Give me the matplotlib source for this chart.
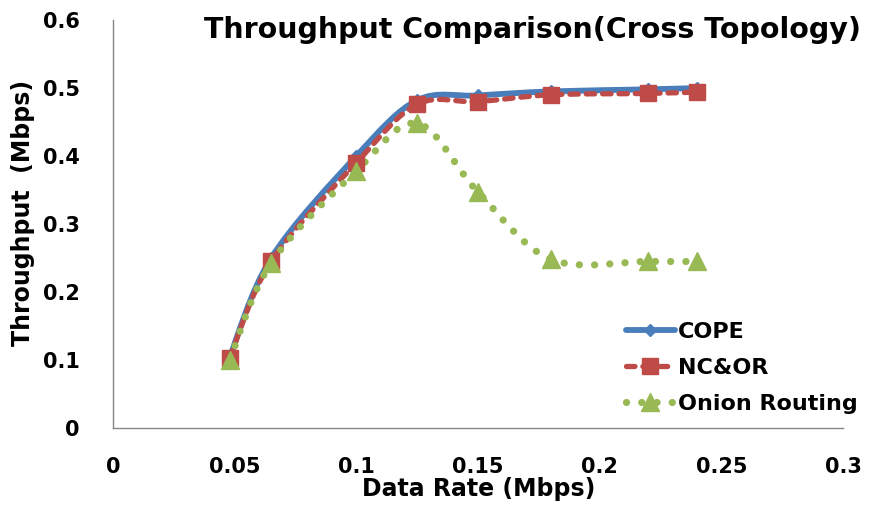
import matplotlib
matplotlib.use('Agg')
import matplotlib.pyplot as plt
from matplotlib.path import Path
from matplotlib.patches import PathPatch
from matplotlib.lines import Line2D
import numpy as np

# values
data_rate = [0.048, 0.065, 0.1, 0.125, 0.15, 0.18, 0.22, 0.24]
cope = [0.105, 0.25, 0.40, 0.482, 0.489, 0.495, 0.498, 0.500]
nc_or = [0.103, 0.245, 0.39, 0.476, 0.480, 0.490, 0.492, 0.494]
onion = [0.100, 0.243, 0.378, 0.448, 0.347, 0.248, 0.245, 0.245]
series_names = ['COPE', 'NC&OR', 'Onion Routing']
x_ticks = [0, 0.05, 0.1, 0.15, 0.2, 0.25, 0.3]
y_ticks = [0, 0.1, 0.2, 0.3, 0.4, 0.5, 0.6]

plt.rcParams['font.family'] = ['DejaVu Sans']
plt.rcParams['font.weight'] = 'bold'


def smooth_path(xs, ys):
    """Excel-like smoothed line as cubic bezier segments"""
    pts = np.column_stack([xs, ys]).astype(float)
    n = len(pts)
    verts = [pts[0]]
    codes = [Path.MOVETO]
    for i in range(n - 1):
        p0 = pts[max(i - 1, 0)]
        p1 = pts[i]
        p2 = pts[i + 1]
        p3 = pts[min(i + 2, n - 1)]
        c1 = p1 + (p2 - p0) / 6.0
        c2 = p2 - (p3 - p1) / 6.0
        verts += [c1, c2, p2]
        codes += [Path.CURVE4] * 3
    return Path(verts, codes)


fig = plt.figure(figsize=(8.78, 5.05), dpi=100)
ax = fig.add_axes([113 / 878, 77 / 505, 730 / 878, 408 / 505])

styles = [
    dict(color='#4A7EBB', ls='-', lw=4.2, marker='D', ms=6),
    dict(color='#BE4B48', ls=(0, (1.6, 1.5)), lw=3.8, marker='s', ms=11.5),
    dict(color='#98B954', ls=(0, (0.01, 2.1)), lw=5.2, marker='^', ms=13),
]
values = [cope, nc_or, onion]

handles = []
for name, vals, st in zip(series_names, values, styles):
    patch = PathPatch(smooth_path(data_rate, vals), facecolor='none',
                      edgecolor=st['color'], lw=st['lw'], linestyle=st['ls'],
                      capstyle='round', joinstyle='round', zorder=2)
    ax.add_patch(patch)
    ax.plot(data_rate, vals, linestyle='none', marker=st['marker'],
            ms=st['ms'], color=st['color'], mec=st['color'], zorder=3)
    h = Line2D([], [], color=st['color'], lw=st['lw'], linestyle=st['ls'],
               marker=st['marker'], ms=st['ms'], mec=st['color'],
               dash_capstyle='round', solid_capstyle='round')
    handles.append(h)

ax.set_xlim(0, 0.3)
ax.set_ylim(0, 0.6)
ax.set_xticks(x_ticks)
ax.set_yticks(y_ticks)
ax.set_xticklabels([f'{t:g}' for t in x_ticks])
ax.set_yticklabels([f'{t:g}' for t in y_ticks])
ax.tick_params(length=0, labelsize=15, colors='black')
ax.tick_params(axis='x', pad=21)
ax.tick_params(axis='y', pad=24)
for lab in ax.get_xticklabels() + ax.get_yticklabels():
    lab.set_fontweight('bold')

for side in ['top', 'right']:
    ax.spines[side].set_visible(False)
for side in ['left', 'bottom']:
    ax.spines[side].set_color('#868686')
    ax.spines[side].set_linewidth(1.0)

fig.text(533 / 878, 1 - 30 / 505, 'Throughput Comparison(Cross Topology)',
         ha='center', va='center', fontsize=20.5, fontweight='bold')
fig.text(479 / 878, 1 - 489 / 505, 'Data Rate (Mbps)',
         ha='center', va='center', fontsize=17, fontweight='bold')
fig.text(23 / 878, 1 - 213 / 505, 'Throughput  (Mbps)', rotation=90,
         ha='center', va='center', fontsize=17, fontweight='bold')

leg = ax.legend(handles, series_names, loc='center left',
                bbox_to_anchor=(626 / 878, 1 - 368 / 505),
                bbox_transform=fig.transFigure, frameon=False,
                borderpad=0, borderaxespad=0,
                handlelength=2.2, handletextpad=0.15, labelspacing=0.72,
                prop={'weight': 'bold', 'size': 16})

fig.savefig('out.png', dpi=100, facecolor='white')
